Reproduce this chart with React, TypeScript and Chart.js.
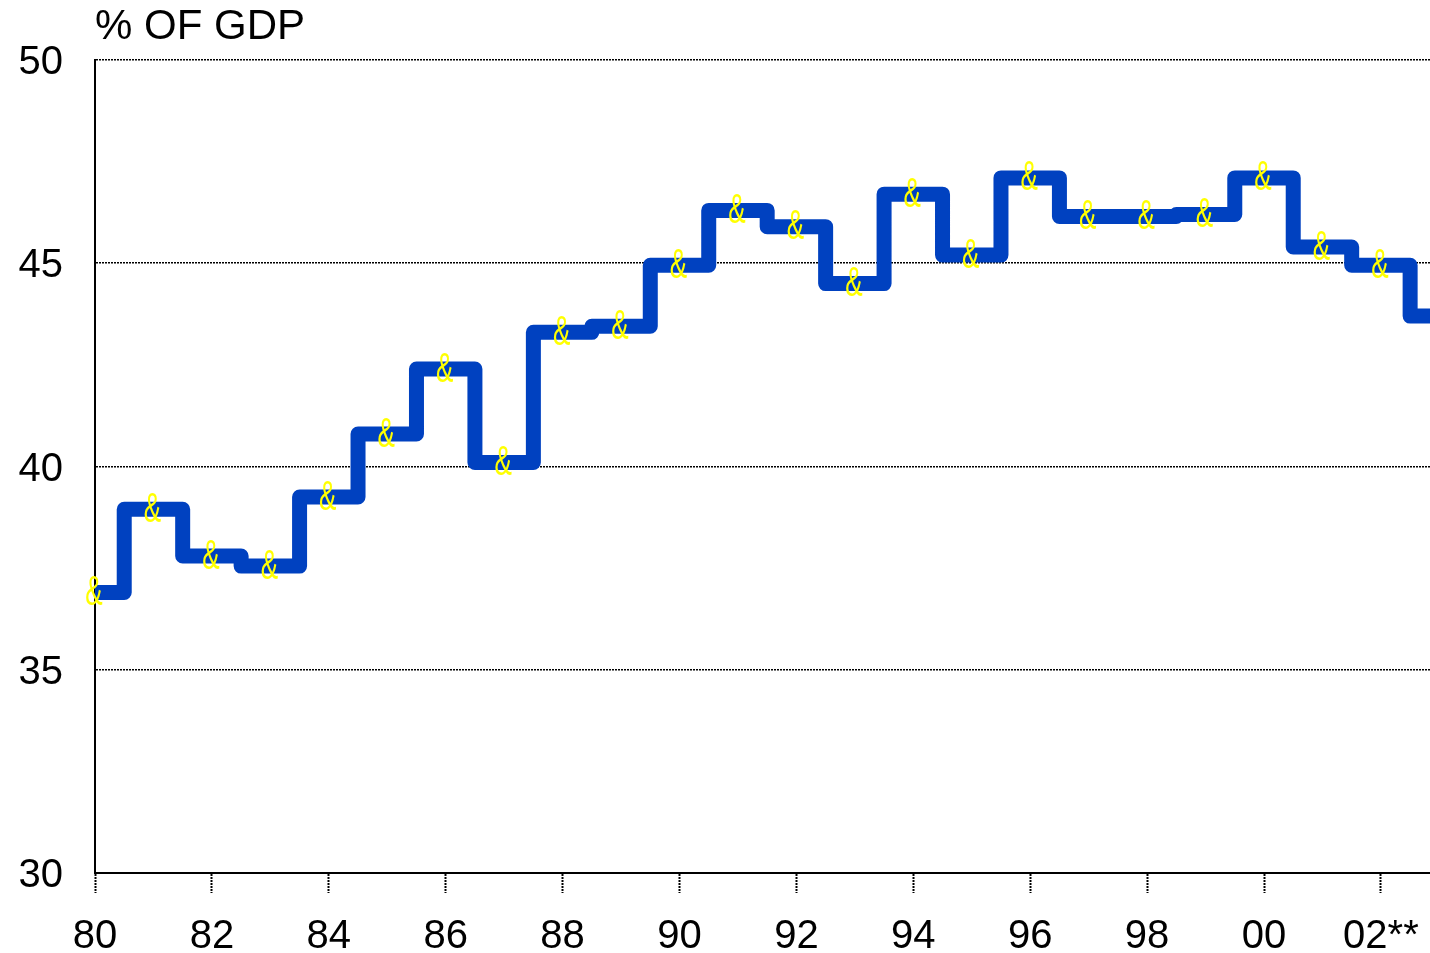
import React, { useEffect, useRef } from "react";
import { Chart, registerables } from "chart.js";

Chart.register(...registerables);

const years = [1980, 1981, 1982, 1983, 1984, 1985, 1986, 1987, 1988, 1989, 1990, 1991, 1992, 1993, 1994, 1995, 1996, 1997, 1998, 1999, 2000, 2001, 2002, 2003];
const values = [36.9, 38.95, 37.8, 37.55, 39.25, 40.8, 42.4, 40.1, 43.3, 43.45, 44.95, 46.3, 45.9, 44.5, 46.7, 45.2, 47.1, 46.15, 46.15, 46.2, 47.1, 45.4, 44.95, 43.7];
const tickYears = [1980, 1982, 1984, 1986, 1988, 1990, 1992, 1994, 1996, 1998, 2000, 2002];
const tickLabels = ["80", "82", "84", "86", "88", "90", "92", "94", "96", "98", "00", "02**"];
const yTicks = [30, 35, 40, 45, 50];
const titleText = "% OF GDP";
const markerGlyph = "&";

const FONT = "'Liberation Sans', Arial, sans-serif";

const overlayPlugin = {
  id: "overlay",
  afterDatasetsDraw(chart: any) {
    const ctx = chart.ctx;
    const area = chart.chartArea;
    const meta = chart.getDatasetMeta(0);
    ctx.save();
    ctx.fillStyle = "#FFFF00";
    ctx.font = `42px ${FONT}`;
    ctx.textAlign = "center";
    ctx.textBaseline = "middle";
    meta.data.forEach((pt: any) => {
      if (pt.x > area.right + 1) return;
      ctx.save();
      ctx.translate(pt.x - 1, pt.y + 1);
      ctx.scale(0.62, 1);
      ctx.fillText(markerGlyph, 0, 0);
      ctx.restore();
    });
    ctx.restore();
  },
  afterDraw(chart: any) {
    const ctx = chart.ctx;
    const area = chart.chartArea;
    ctx.save();
    ctx.fillStyle = "#000";
    ctx.font = `42px ${FONT}`;
    ctx.textAlign = "left";
    ctx.textBaseline = "middle";
    ctx.fillText(titleText, area.left, 27);
    ctx.restore();
  },
};

export default function App() {
  const ref = useRef<HTMLCanvasElement>(null);
  useEffect(() => {
    if (!ref.current) return;
    const chart = new Chart(ref.current, {
      type: "line",
      data: {
        datasets: [
          {
            data: years.map((x, i) => ({ x, y: values[i] })),
            stepped: "middle",
            borderColor: "#0041C0",
            borderWidth: 15,
            borderJoinStyle: "round",
            borderCapStyle: "butt",
            pointRadius: 0,
            fill: false,
            clip: { left: 10, top: 10, right: 0, bottom: 10 },
          } as any,
        ],
      },
      options: {
        animation: false,
        responsive: false,
        layout: { padding: { top: 60, right: 0, left: 0, bottom: 0 } },
        plugins: {
          legend: { display: false },
          tooltip: { enabled: false },
          title: { display: false },
        },
        scales: {
          x: {
            type: "linear",
            min: 1980,
            max: 2002.84,
            afterBuildTicks: (s: any) => {
              s.ticks = tickYears.map((v) => ({ value: v }));
            },
            afterFit: (s: any) => {
              s.height = 80;
              s.paddingLeft = 0;
              s.paddingRight = 0;
            },
            ticks: {
              autoSkip: false,
              maxRotation: 0,
              padding: 20,
              color: "#000",
              font: { family: FONT, size: 40 },
              callback: (v: any) => tickLabels[tickYears.indexOf(Number(v))],
            },
            grid: {
              drawOnChartArea: false,
              drawTicks: true,
              tickLength: 20,
              tickColor: "#000",
              tickWidth: 2,
              tickBorderDash: [2, 1],
            },
            border: { display: true, color: "#000", width: 2, dash: [2, 1] },
          },
          y: {
            type: "linear",
            min: 30,
            max: 50,
            afterBuildTicks: (s: any) => {
              s.ticks = yTicks.map((v) => ({ value: v }));
            },
            afterFit: (s: any) => {
              s.width = 95;
              s.paddingTop = 0;
              s.paddingBottom = 0;
            },
            ticks: {
              padding: 32,
              labelOffset: 3,
              color: "#000",
              font: { family: FONT, size: 40 },
            },
            grid: {
              drawTicks: false,
              color: "#000",
              lineWidth: 1.6,
            },
            border: { display: true, color: "#000", width: 2, dash: [2, 1] },
          },
        },
      } as any,
      plugins: [overlayPlugin],
    });
    return () => chart.destroy();
  }, []);
  return (
    <div style={{ position: "fixed", left: 0, top: 0, width: 1430, height: 953, background: "#fff" }}>
      <canvas ref={ref} width={1430} height={953} style={{ display: "block" }} />
    </div>
  );
}
